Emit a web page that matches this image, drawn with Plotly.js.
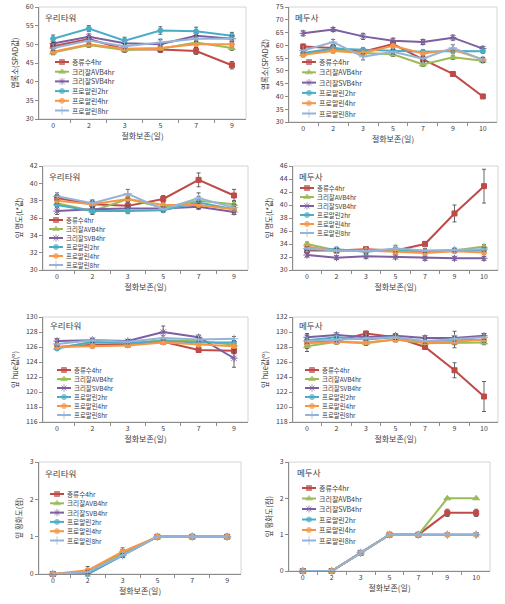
<!DOCTYPE html>
<html><head><meta charset="utf-8">
<script src="https://cdn.plot.ly/plotly-3.0.1.min.js"></script>
<style>html,body{margin:0;padding:0;background:#fff}</style>
</head><body><div id="chart" style="width:505px;height:604px"></div>
<script>
// ---------- data ----------
const seriesNames = ['증류수4hr','크리잘AVB4hr','크리잘SVB4hr','프로말린2hr','프로말린4hr','프로말린8hr'];
const daysWoori = ['0','2','3','5','7','9'];
const daysMedusa = ['0','2','3','5','7','9','10'];
const cultivars = ['우리타워','메두사'];
const yTitles = ['엽록소(SPAD값)','잎 명도(L*값)','잎 hue값(º)','잎 황화도(점)'];
const xTitle = '절화보존(일)';

// SPAD - 우리타워
const wooriSpad = [
  [49.5,51.4,48.7,48.6,48.2,44.4],
  [47.8,49.8,48.5,48.8,50.5,49.0],
  [50.2,52.0,50.3,50.0,52.3,51.5],
  [51.5,54.2,51.0,53.7,53.5,52.3],
  [48.0,50.0,48.8,49.0,50.0,50.0],
  [49.0,51.0,49.5,50.5,51.5,51.5]];
const wooriSpadErr = [
  [0.8,0.9,0.7,0.8,0.9,1.0],
  [0.6,0.6,0.6,0.6,0.6,0.6],
  [0.7,0.8,0.7,1.2,0.9,0.8],
  [1.0,0.8,0.9,1.0,1.1,0.9],
  [0.6,0.6,0.6,0.6,0.8,0.6],
  [0.7,0.9,0.7,0.9,0.8,0.8]];
// SPAD - 메두사
const medusaSpad = [
  [59.5,59.0,57.5,60.5,54.5,48.8,40.0],
  [56.5,58.5,57.0,56.5,52.5,55.3,54.0],
  [64.7,66.2,63.5,61.8,61.3,63.0,58.7],
  [57.0,58.8,58.3,58.0,57.5,57.8,57.7],
  [56.3,57.8,57.0,59.8,56.8,58.3,54.5],
  [58.0,61.3,55.5,57.5,54.8,59.0,54.3]];
const medusaSpadErr = [
  [1.0,1.0,1.0,1.0,1.0,0.8,0.6],
  [0.8,0.8,0.8,0.8,0.8,0.8,0.8],
  [1.0,0.8,1.2,1.0,1.0,1.0,0.9],
  [0.8,0.8,0.8,0.8,0.8,0.8,0.8],
  [0.8,0.8,0.8,0.8,0.8,0.8,0.8],
  [1.0,1.0,1.2,0.9,1.0,1.2,1.0]];
// L* - 우리타워
const wooriL = [
  [38.3,37.6,37.4,38.2,40.4,38.6],
  [37.7,36.8,38.2,37.2,38.0,37.6],
  [36.8,37.0,37.1,37.1,37.3,36.7],
  [37.5,36.8,36.8,36.9,37.8,37.0],
  [38.0,37.6,38.2,37.5,37.5,37.0],
  [38.5,37.7,38.8,37.0,38.3,37.2]];
const wooriLErr = [
  [0.4,0.4,0.4,0.4,0.8,0.7],
  [0.4,0.4,0.3,0.3,0.5,0.4],
  [0.4,0.3,0.3,0.3,0.3,0.3],
  [0.3,0.3,0.3,0.2,0.4,0.3],
  [0.3,0.3,0.3,0.3,0.4,0.3],
  [0.4,0.4,0.5,0.3,0.6,0.4]];
// L* - 메두사
const medusaL = [
  [33.0,33.0,33.2,33.0,34.0,38.7,42.9],
  [34.0,33.0,33.0,33.0,32.8,33.0,33.6],
  [32.3,31.9,32.1,32.0,31.8,31.8,31.8],
  [33.2,33.2,32.8,33.2,32.8,33.0,33.0],
  [33.6,32.9,33.0,32.8,32.6,32.9,32.7],
  [33.3,33.0,32.9,33.3,33.0,33.1,33.2]];
const medusaLErr = [
  [0.4,0.4,0.3,0.5,0.4,1.3,2.6],
  [0.3,0.3,0.3,0.3,0.3,0.3,0.3],
  [0.3,0.3,0.3,0.3,0.3,0.3,0.3],
  [0.3,0.3,0.3,0.3,0.3,0.3,0.3],
  [0.3,0.3,0.3,0.3,0.3,0.3,0.3],
  [0.3,0.3,0.3,0.5,0.3,0.3,0.3]];
// hue - 우리타워
const wooriHue = [
  [126.0,126.3,126.3,126.7,125.6,125.5],
  [125.9,126.6,126.5,126.9,126.8,126.3],
  [126.8,126.9,126.8,128.0,127.3,124.5],
  [125.8,126.7,126.5,126.8,126.6,126.6],
  [126.0,126.1,126.2,126.6,126.3,126.1],
  [126.4,126.9,126.7,127.2,127.0,127.1]];
const wooriHueErr = [
  [0.3,0.4,0.2,0.3,0.3,0.4],
  [0.3,0.3,0.3,0.3,0.3,0.3],
  [0.3,0.2,0.2,0.8,0.3,1.2],
  [0.2,0.2,0.2,0.2,0.2,0.2],
  [0.2,0.2,0.2,0.2,0.2,0.2],
  [0.3,0.3,0.3,0.3,0.3,0.3]];
// hue - 메두사
const medusaHue = [
  [128.6,128.8,129.8,129.3,128.0,124.9,121.4],
  [128.1,128.7,128.5,129.0,128.5,128.6,128.6],
  [129.3,129.6,129.3,129.5,129.2,129.2,129.5],
  [128.9,129.3,129.0,129.3,128.7,129.0,128.9],
  [128.5,128.7,128.6,129.0,128.6,128.7,129.0],
  [128.8,129.0,129.2,129.3,128.8,129.1,129.3]];
const medusaHueErr = [
  [1.2,0.3,0.3,0.3,0.3,1.0,2.0],
  [0.3,0.3,0.3,0.3,0.3,0.3,0.3],
  [0.3,0.3,0.3,0.3,0.3,0.3,0.3],
  [0.3,0.3,0.3,0.3,0.3,1.1,0.3],
  [0.3,0.3,0.3,0.3,0.3,0.3,0.3],
  [0.3,0.3,0.3,0.3,0.3,0.3,0.3]];
// yellowing - 우리타워
const wooriYellow = [
  [0,0.05,0.55,1,1,1],
  [0,0.05,0.55,1,1,1],
  [0,0,0.5,1,1,1],
  [0,0,0.5,1,1,1],
  [0,0.1,0.6,1,1,1],
  [0,0.05,0.5,1,1,1]];
const wooriYellowErr = [
  [0,0.05,0.1,0,0,0],
  [0,0.05,0.1,0,0,0],
  [0,0,0.05,0,0,0],
  [0,0,0.05,0,0,0],
  [0,0.1,0.1,0,0,0],
  [0,0.05,0.05,0,0,0]];
// yellowing - 메두사
const medusaYellow = [
  [0,0,0.5,1,1,1.6,1.6],
  [0,0,0.5,1,1,2,2],
  [0,0,0.5,1,1,1,1],
  [0,0,0.5,1,1,1,1],
  [0,0,0.5,1,1,1,1],
  [0,0,0.5,1,1,1,1]];
const medusaYellowErr = [
  [0,0,0,0,0,0.1,0.1],
  [0,0,0,0,0,0,0],
  [0,0,0,0,0,0,0],
  [0,0,0,0,0,0,0],
  [0,0,0,0,0,0,0],
  [0,0,0,0,0,0,0]];

// ---------- styles / layout ----------
const W = 505, H = 604;
const colors = ['#BE4B48','#9BBB59','#7D5FA0','#4BACC6','#F79646','#95B3D7'];
const symbols = ['square','triangle-up','asterisk-open','circle','circle','cross-thin-open'];
const msizes = [5,6,6,5,5,6];
const FONT = '"Noto Sans CJK KR", "Noto Sans", sans-serif';
const TXT = '#404040';

const panels = [
  {vals: wooriSpad,   errs: wooriSpadErr,   cats: daysWoori,  yr:[30,60],   dt:5, box:[39,246,7,119],   leg:[55,62,9.7],   title:[43,17]},
  {vals: medusaSpad,  errs: medusaSpadErr,  cats: daysMedusa, yr:[30,75],   dt:5, box:[289,497,7,122],  leg:[302,62,10.3], title:[293,17]},
  {vals: wooriL,      errs: wooriLErr,      cats: daysWoori,  yr:[30,42],   dt:2, box:[43,248,166,270], leg:[49,220,9.0],  title:[47,176]},
  {vals: medusaL,     errs: medusaLErr,     cats: daysMedusa, yr:[30,46],   dt:2, box:[293,498,166,270],leg:[300,188,9.0], title:[297,176]},
  {vals: wooriHue,    errs: wooriHueErr,    cats: daysWoori,  yr:[116,130], dt:2, box:[43,248,317,422], leg:[57,370,9.0],  title:[48,325]},
  {vals: medusaHue,   errs: medusaHueErr,   cats: daysMedusa, yr:[118,132], dt:2, box:[293,498,317,422],leg:[305,370,9.0], title:[297,325]},
  {vals: wooriYellow, errs: wooriYellowErr, cats: daysWoori,  yr:[0,3],     dt:1, box:[39,241,462,574], leg:[50,494,9.3],  title:[43,473]},
  {vals: medusaYellow,errs: medusaYellowErr,cats: daysMedusa, yr:[0,3],     dt:1, box:[289,490,462,571],leg:[302,488,10.5],title:[295,472]}
];

const traces = [];
const layout = {
  width: W, height: H, margin: {l:0,r:0,t:0,b:0},
  paper_bgcolor:'#fff', plot_bgcolor:'rgba(0,0,0,0)',
  showlegend:false, font:{family:FONT, color:TXT, size:7},
  annotations: [], shapes: []
};

panels.forEach((p, i) => {
  const k = i + 1;
  const xa = k === 1 ? 'x' : 'x' + k;
  const ya = k === 1 ? 'y' : 'y' + k;
  const xKey = k === 1 ? 'xaxis' : 'xaxis' + k;
  const yKey = k === 1 ? 'yaxis' : 'yaxis' + k;
  const [bx0, bx1, by0, by1] = p.box;
  layout[xKey] = {
    domain:[bx0/W, bx1/W], anchor: ya, type:'category',
    categoryorder:'array', categoryarray: p.cats,
    showline:true, linecolor:'#8C8C8C', linewidth:1,
    ticks:'outside', ticklen:3, tickcolor:'#8C8C8C', tickson:'boundaries',
    showgrid:false, zeroline:false, tickfont:{size:7, color:TXT},
    title:{text:xTitle, font:{size:8, color:TXT}, standoff:2}
  };
  layout[yKey] = {
    domain:[1 - by1/H, 1 - by0/H], anchor: xa,
    range: p.yr, tick0: p.yr[0], dtick: p.dt, autorange:false,
    showline:true, linecolor:'#8C8C8C', linewidth:1,
    ticks:'outside', ticklen:3, tickcolor:'#8C8C8C',
    showgrid:false, zeroline:false, tickfont:{size:7, color:TXT},
    title:{text:yTitles[Math.floor(i/2)], font:{size:7.5, color:TXT}, standoff:6}
  };
  layout.shapes.push({type:'rect', xref: xa + ' domain', yref: ya + ' domain',
    x0:0, x1:1, y0:0, y1:1, line:{color:'#D4D4D4', width:1}, layer:'below'});

  p.vals.forEach((vals, s) => {
    traces.push({
      type:'scatter', mode:'lines+markers', name: seriesNames[s],
      x: p.cats, y: vals, xaxis: xa, yaxis: ya,
      line:{color: colors[s], width:2},
      marker:{symbol: symbols[s], size: msizes[s], color: colors[s],
              line:{color: colors[s], width: 1}},
      error_y:{type:'data', array: p.errs[s], color:'#404040', thickness:0.8, width:2},
      cliponaxis:false
    });
  });

  // panel cultivar title
  layout.annotations.push({xref:'x9', yref:'y9', x:p.title[0], y:p.title[1],
    xanchor:'left', yanchor:'middle', showarrow:false,
    text: cultivars[i % 2], font:{size:8.5, color:TXT}});

  // legend (custom, compact)
  const [lx, ly, ldy] = p.leg;
  const lfs = Math.min(7, ldy / 1.4);
  seriesNames.forEach((nm, s) => {
    const yy = ly + s * ldy;
    traces.push({
      type:'scatter', mode:'lines+markers', xaxis:'x9', yaxis:'y9',
      x:[lx, lx + 7, lx + 14], y:[yy, yy, yy], hoverinfo:'skip',
      line:{color: colors[s], width:2},
      marker:{symbol: symbols[s], size:[0, msizes[s], 0], color: colors[s],
              line:{color: colors[s], width:1}}
    });
    layout.annotations.push({xref:'x9', yref:'y9', x: lx + 15, y: yy,
      xanchor:'left', yanchor:'middle', showarrow:false,
      text: nm, font:{size: lfs, color:TXT}});
  });
});

layout.xaxis9 = {domain:[0,1], range:[0,W], visible:false, fixedrange:true, anchor:'y9'};
layout.yaxis9 = {domain:[0,1], range:[H,0], autorange:false, visible:false, fixedrange:true, anchor:'x9'};

Plotly.newPlot('chart', traces, layout, {displayModeBar:false, staticPlot:true});
</script>
</body></html>
